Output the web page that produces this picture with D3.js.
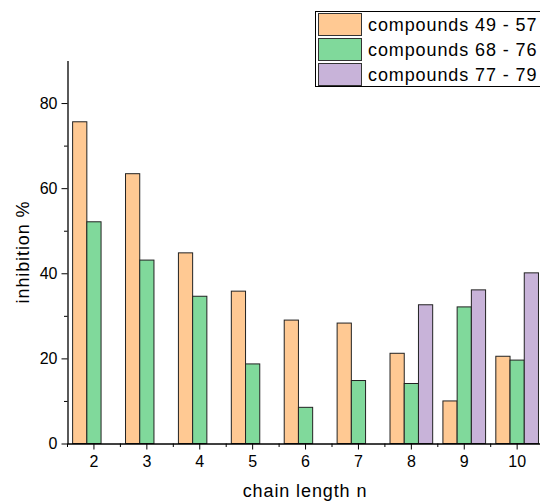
<!DOCTYPE html>
<html>
<head>
<meta charset="utf-8">
<script src="https://cdn.jsdelivr.net/npm/d3@7"></script>
<style>
  body { margin: 0; background: #fff; }
  text { font-family: "Liberation Sans", Arial, sans-serif; fill: #000; }
</style>
</head>
<body>
<div id="chart"></div>
<script>
// data
var chainLength = ["2", "3", "4", "5", "6", "7", "8", "9", "10"];
var seriesNames = ["compounds 49 - 57", "compounds 68 - 76", "compounds 77 - 79"];
var compounds49to57 = [75.6, 63.4, 44.8, 35.8, 29.0, 28.3, 21.2, 10.0, 20.5];
var compounds68to76 = [52.1, 43.1, 34.6, 18.7, 8.5, 14.8, 14.1, 32.1, 19.6];
var compounds77to79 = [null, null, null, null, null, null, 32.6, 36.1, 40.1];
var yMajorTicks = [0, 20, 40, 60, 80];
var yMinorTicks = [10, 30, 50, 70];
var colors = ["#ffc993", "#80d99b", "#c8b3d9"];

var allSeries = [compounds49to57, compounds68to76, compounds77to79];

var width = 540, height = 501;
var plotLeft = 67.5, plotBottom = 443.5, plotTop = 60.5;

var svg = d3.select("#chart")
  .append("svg")
    .attr("width", width)
    .attr("height", height);

var x = d3.scaleBand()
  .domain(chainLength)
  .range([plotLeft, plotLeft + 9 * 52.9])
  .padding(0);

var xs = d3.scaleBand()
  .domain(d3.range(seriesNames.length))
  .range([0, x.bandwidth()])
  .paddingInner(0)
  .paddingOuter(0.36);

var y = d3.scaleLinear()
  .domain([0, 90])
  .range([plotBottom, plotTop]);

// bars
var groups = svg.append("g").selectAll("g")
  .data(chainLength)
  .enter().append("g")
    .attr("transform", function(d) { return "translate(" + x(d) + ",0)"; });

groups.selectAll("rect")
  .data(function(d, i) {
    return allSeries.map(function(s, k) { return {k: k, v: s[i]}; })
      .filter(function(e) { return e.v != null; });
  })
  .enter().append("rect")
    .attr("x", function(e) { return xs(e.k); })
    .attr("y", function(e) { return y(e.v); })
    .attr("width", xs.bandwidth())
    .attr("height", function(e) { return y(0) - y(e.v); })
    .attr("fill", function(e) { return colors[e.k]; })
    .attr("stroke", "#222")
    .attr("stroke-width", 1);

// x axis
var xAxis = svg.append("g")
  .attr("transform", "translate(0," + plotBottom + ")")
  .call(d3.axisBottom(x).tickSize(6).tickSizeOuter(0).tickPadding(6));
xAxis.selectAll("text").style("font-size", "16px");

// x minor ticks at category boundaries
svg.append("g").selectAll("line")
  .data(chainLength)
  .enter().append("line")
    .attr("x1", function(d) { return x(d); })
    .attr("x2", function(d) { return x(d); })
    .attr("y1", plotBottom)
    .attr("y2", plotBottom + 3.5)
    .attr("stroke", "#000");

// y axis
var yAxis = svg.append("g")
  .attr("transform", "translate(" + plotLeft + ",0)")
  .call(d3.axisLeft(y).tickValues(yMajorTicks).tickSize(6).tickSizeOuter(0).tickPadding(4));
yAxis.selectAll("text").style("font-size", "16px");

svg.append("g")
  .attr("transform", "translate(" + plotLeft + ",0)")
  .call(d3.axisLeft(y).tickValues(yMinorTicks).tickSize(3.5).tickFormat(""))
  .select(".domain").remove();

svg.selectAll(".domain").attr("stroke-width", 1.3);

// axis titles
svg.append("text")
  .attr("x", 305)
  .attr("y", 497)
  .attr("text-anchor", "middle")
  .style("font-size", "18px")
  .style("letter-spacing", "0.9px")
  .text("chain length n");

svg.append("text")
  .attr("transform", "translate(29,252) rotate(-90)")
  .attr("text-anchor", "middle")
  .style("font-size", "18px")
  .style("letter-spacing", "0.9px")
  .text("inhibition %");

// legend
var legend = svg.append("g");
legend.append("rect")
  .attr("x", 315.5).attr("y", 11.5)
  .attr("width", 240).attr("height", 75)
  .attr("fill", "#fff")
  .attr("stroke", "#000");

var items = legend.selectAll("g.item")
  .data(seriesNames)
  .enter().append("g")
    .attr("class", "item")
    .attr("transform", function(d, i) { return "translate(0," + (13.5 + i * 25) + ")"; });

items.append("rect")
  .attr("x", 318.5).attr("y", 0)
  .attr("width", 43).attr("height", 22)
  .attr("fill", function(d, i) { return colors[i]; })
  .attr("stroke", "#333");

items.append("text")
  .attr("x", 368)
  .attr("y", 17.5)
  .style("font-size", "18px")
  .style("letter-spacing", "0.9px")
  .text(function(d) { return d; });
</script>
</body>
</html>
